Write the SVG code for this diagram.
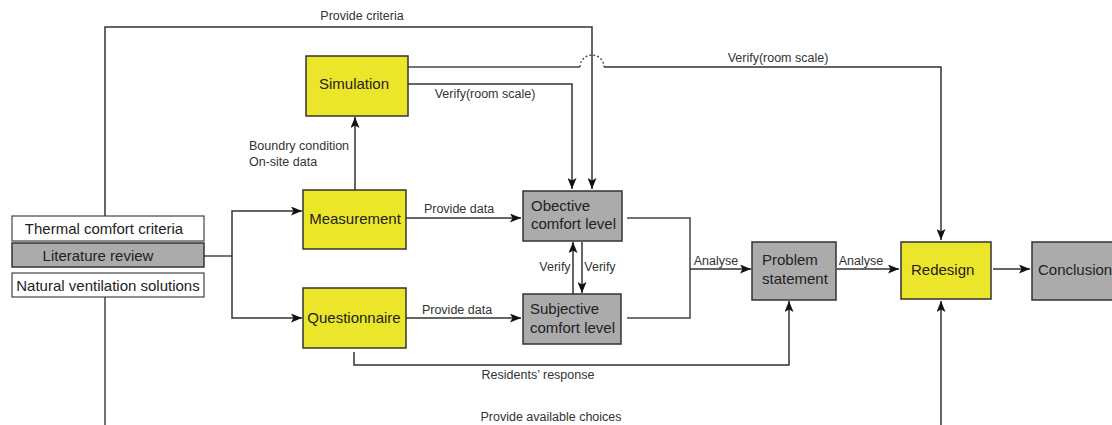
<svg xmlns="http://www.w3.org/2000/svg" width="1112" height="425" viewBox="0 0 1112 425">
<defs>
<marker id="ah" markerWidth="11" markerHeight="9" refX="11" refY="4.5" orient="auto" markerUnits="userSpaceOnUse">
<path d="M0,0 L11,4.5 L0,9 L2.5,4.5 Z" fill="#111"/>
</marker>
</defs>
<style>
.y{fill:#ECE62A;stroke:#333;stroke-width:1.5}
.g{fill:#ABABAB;stroke:#333;stroke-width:1.5}
.w{fill:#fff;stroke:#444;stroke-width:1.2}
.t{font-family:"Liberation Sans",Arial,sans-serif;font-size:15px;fill:#222}
.l{font-family:"Liberation Sans",Arial,sans-serif;font-size:12.5px;fill:#333}
.c{fill:none;stroke:#444;stroke-width:1.5}
.a{fill:none;stroke:#333;stroke-width:1.5;marker-end:url(#ah)}
</style>
<rect width="1112" height="425" fill="#fff"/>
<g id="connectors">
<path class="a" d="M105,216 V27 H592 V189"/>
<path class="c" d="M105,297 V425"/>
<path class="c" d="M204,256 H232"/>
<path class="a" d="M232,256 V211 H302"/>
<path class="a" d="M232,256 V318 H302"/>
<path class="a" d="M355,190 V117"/>
<path class="a" d="M408,84 H572 V189"/>
<path class="c" d="M408,67 H580"/>
<path d="M580,67 A12,12 0 0 1 604,67" fill="none" stroke="#444" stroke-width="1.3" stroke-dasharray="2,2"/>
<path class="a" d="M604,67 H941 V240"/>
<path class="a" d="M406,218 H521"/>
<path class="a" d="M406,318 H521"/>
<path class="a" d="M573,294 V242"/>
<path class="a" d="M582,242 V293"/>
<path class="c" d="M627,218 H690 V318 H627"/>
<path class="a" d="M690,269 H751"/>
<path class="a" d="M354,352 V365 H789 V301"/>
<path class="a" d="M837,269 H899"/>
<path class="a" d="M993,269 H1030"/>
<path class="a" d="M941,425 V301"/>
</g>
<g id="labels">
<text class="l" x="362" y="20" text-anchor="middle">Provide criteria</text>
<text class="l" x="485" y="98" text-anchor="middle">Verify(room scale)</text>
<text class="l" x="778" y="62" text-anchor="middle">Verify(room scale)</text>
<text class="l" x="249" y="150">Boundry condition</text>
<text class="l" x="249" y="166">On-site data</text>
<text class="l" x="459" y="213" text-anchor="middle">Provide data</text>
<text class="l" x="457" y="314" text-anchor="middle">Provide data</text>
<text class="l" x="555" y="271" text-anchor="middle">Verify</text>
<text class="l" x="600" y="271" text-anchor="middle">Verify</text>
<text class="l" x="716" y="265" text-anchor="middle">Analyse</text>
<text class="l" x="861" y="265" text-anchor="middle">Analyse</text>
<text class="l" x="538" y="379" text-anchor="middle">Residents’ response</text>
<text class="l" x="551" y="421" text-anchor="middle">Provide available choices</text>
</g>
<g id="thermal"><rect class="w" x="12" y="216" width="192" height="25"/><text class="t" x="104" y="234" text-anchor="middle">Thermal comfort criteria</text></g>
<g id="literature"><rect class="g" x="12" y="243" width="192" height="24"/><text class="t" x="98" y="261" text-anchor="middle" fill="#333">Literature review</text></g>
<g id="natural"><rect class="w" x="12" y="273" width="192" height="24"/><text class="t" x="108" y="291" text-anchor="middle">Natural ventilation solutions</text></g>
<g id="simulation"><rect class="y" x="306" y="56" width="102" height="60"/><text class="t" x="354" y="89" text-anchor="middle">Simulation</text></g>
<g id="measurement"><rect class="y" x="303" y="190" width="103" height="59"/><text class="t" x="355" y="224" text-anchor="middle">Measurement</text></g>
<g id="questionnaire"><rect class="y" x="303" y="288" width="103" height="60"/><text class="t" x="354" y="323" text-anchor="middle">Questionnaire</text></g>
<g id="objective"><rect class="g" x="523" y="191" width="99" height="50"/><text class="t" x="531" y="211">Obective</text><text class="t" x="531" y="229">comfort level</text></g>
<g id="subjective"><rect class="g" x="523" y="294" width="98" height="50"/><text class="t" x="530" y="314">Subjective</text><text class="t" x="530" y="333">comfort level</text></g>
<g id="problem"><rect class="g" x="752" y="242" width="84" height="58"/><text class="t" x="762" y="265">Problem</text><text class="t" x="762" y="284">statement</text></g>
<g id="redesign"><rect class="y" x="901" y="242" width="90" height="57"/><text class="t" x="911" y="275">Redesign</text></g>
<g id="conclusion"><rect class="g" x="1032" y="242" width="90" height="58"/><text class="t" x="1038" y="275">Conclusion</text></g>
</svg>
